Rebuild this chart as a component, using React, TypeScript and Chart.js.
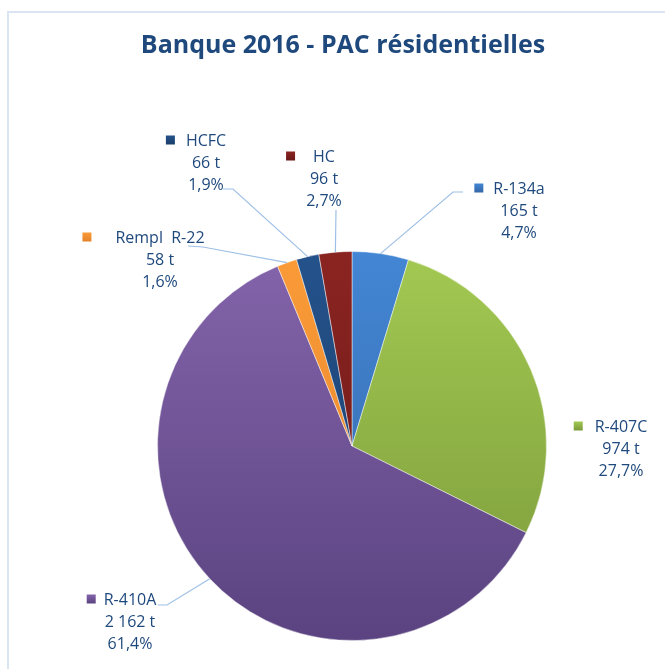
import React, { useEffect, useRef } from "react";
import { Chart, registerables } from "chart.js";

Chart.register(...registerables);

const TITLE = "Banque 2016 - PAC résidentielles";
const categories = ["R-134a", "R-407C", "R-410A", "Rempl  R-22", "HCFC", "HC"];
const tonnes = [165, 974, 2162, 58, 66, 96];
const colorsTop = ["#4386d4", "#a3c952", "#8464ab", "#fa9b38", "#24528b", "#8a2421"];
const colorsBottom = ["#3466a6", "#7a993a", "#5a4380", "#e4822a", "#1a3e6a", "#6a1918"];

// label layout, relative to the pie centre (px): text centre of first line
const labelOffsets = [
  [167, -257],
  [269, -19],
  [-222, 154],
  [-192, -208],
  [-146, -305],
  [-28, -289],
];
// gap between colour key and label text
const keyGaps = [10, 12, 8, 24, 11, 18];
// leader line elbow points (relative to pie centre), from label side to pie
const leaderPaths: number[][][] = [
  [[111, -254], [101, -254]],
  [],
  [[-194, 159], [-185, 159]],
  [[-164, -200], [-149, -199]],
  [[-129, -257], [-119, -257]],
  [[-16, -236]],
];

const TEXT_COLOR = "#1f497d";
const LEADER_COLOR = "#9fc0e6";
const FONT = "'Open Sans', sans-serif";

function fmtTonnes(v: number) {
  return String(v).replace(/\B(?=(\d{3})+(?!\d))/g, " ") + " t";
}

export default function App() {
  const ref = useRef<HTMLCanvasElement>(null);

  useEffect(() => {
    if (!ref.current) return;
    const total = tonnes.reduce((a, b) => a + b, 0);

    const labelPlugin = {
      id: "labelPlugin",
      beforeDraw(chart: any) {
        const c = chart.ctx;
        c.save();
        c.fillStyle = "#ffffff";
        c.fillRect(0, 0, chart.width, chart.height);
        c.strokeStyle = "#dbe5f1";
        c.lineWidth = 2;
        c.beginPath();
        c.moveTo(8, chart.height);
        c.lineTo(8, 12);
        c.lineTo(chart.width, 12);
        c.stroke();
        // title
        c.fillStyle = TEXT_COLOR;
        c.font = `bold 25px ${FONT}`;
        c.textAlign = "center";
        c.textBaseline = "middle";
        c.fillText(TITLE, 343, 46);
        c.restore();
      },
      afterDatasetsDraw(chart: any) {
        const c = chart.ctx;
        const meta = chart.getDatasetMeta(0);
        c.save();
        meta.data.forEach((arc: any, i: number) => {
          const { x, y, startAngle, endAngle, outerRadius } = arc.getProps(
            ["x", "y", "startAngle", "endAngle", "outerRadius"],
            true
          );
          const mid = (startAngle + endAngle) / 2;
          const ex = x + Math.cos(mid) * outerRadius;
          const ey = y + Math.sin(mid) * outerRadius;
          const path = leaderPaths[i];
          if (path.length) {
            c.strokeStyle = LEADER_COLOR;
            c.lineWidth = 1.2;
            c.beginPath();
            c.moveTo(x + path[0][0], y + path[0][1]);
            for (let k = 1; k < path.length; k++) c.lineTo(x + path[k][0], y + path[k][1]);
            c.lineTo(ex, ey);
            c.stroke();
          }
          const tx = x + labelOffsets[i][0];
          const ty = y + labelOffsets[i][1];
          const pct = ((tonnes[i] / total) * 100).toFixed(1).replace(".", ",") + "%";
          const lines = [categories[i], fmtTonnes(tonnes[i]), pct];
          c.font = `16px ${FONT}`;
          c.fillStyle = TEXT_COLOR;
          c.textAlign = "center";
          c.textBaseline = "middle";
          lines.forEach((t, k) => c.fillText(t, tx, ty + k * 22));
          const w = c.measureText(lines[0]).width;
          const ks = 9;
          const kx = tx - w / 2 - keyGaps[i] - ks;
          const ky = ty - ks / 2 - 1;
          const g = c.createLinearGradient(0, ky, 0, ky + ks);
          g.addColorStop(0, colorsTop[i]);
          g.addColorStop(1, colorsBottom[i]);
          c.fillStyle = g;
          c.fillRect(kx, ky, ks, ks);
        });
        c.restore();
      },
    };

    const chart = new Chart(ref.current, {
      type: "pie",
      data: {
        labels: categories,
        datasets: [
          {
            data: tonnes,
            backgroundColor: (ctx: any) => {
              const i = ctx.dataIndex;
              const area = ctx.chart.chartArea;
              if (!area) return colorsTop[i];
              const g = ctx.chart.ctx.createLinearGradient(0, area.top, 0, area.bottom);
              g.addColorStop(0, colorsTop[i]);
              g.addColorStop(1, colorsBottom[i]);
              return g;
            },
            borderColor: "rgba(255,255,255,0.45)",
            borderWidth: 1,
            hoverOffset: 0,
            offset: 0,
          },
        ],
      },
      options: {
        responsive: false,
        animation: false,
        layout: { padding: { left: 157, right: 118, top: 251, bottom: 28 } },
        plugins: {
          legend: { display: false },
          title: { display: false },
          tooltip: { enabled: false },
        },
      },
      plugins: [labelPlugin],
    });
    return () => chart.destroy();
  }, []);

  return (
    <div style={{ position: "absolute", left: 0, top: 0, width: 665, height: 669 }}>
      <canvas ref={ref} width={665} height={669} style={{ display: "block" }} />
    </div>
  );
}
